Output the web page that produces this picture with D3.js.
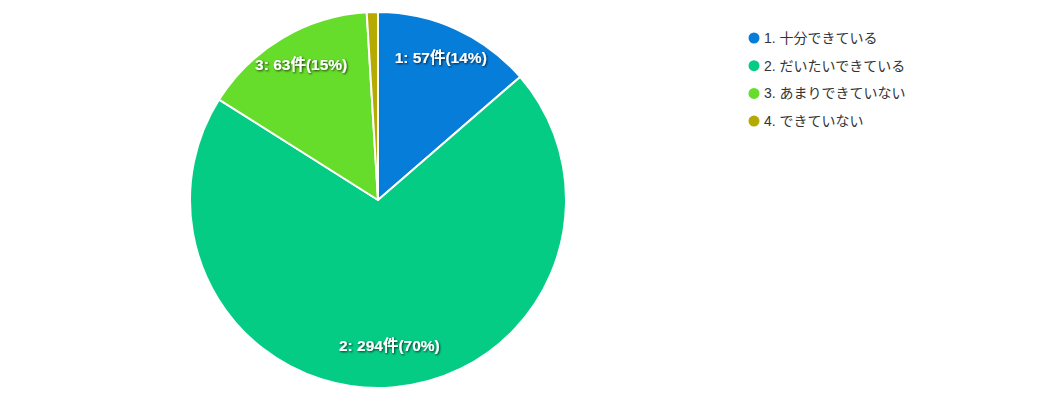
<!DOCTYPE html>
<html>
<head>
<meta charset="utf-8">
<script src="https://cdn.jsdelivr.net/npm/d3@7"></script>
<style>
  body { margin: 0; background: #fff; }
  .slice-label {
    font-family: "Liberation Sans", Arial, "Noto Sans CJK JP", sans-serif;
    font-size: 15.5px;
    font-weight: bold;
    fill: #fff;
  }
  .legend-text {
    font-family: "Liberation Sans", Arial, "Noto Sans CJK JP", sans-serif;
    font-size: 14px;
    fill: #333;
  }
</style>
</head>
<body>
<div id="chart"></div>
<script>
const categories = ["1. 十分できている", "2. だいたいできている", "3. あまりできていない", "4. できていない"];
const shortKeys = ["1", "2", "3", "4"];
const counts = [57, 294, 63, 4];
const colors = ["#077dda", "#05cc85", "#66dd2a", "#b5aa00"];

const W = 1039, H = 402;
const cx = 378, cy = 200, radius = 188;

const svg = d3.select("#chart")
    .append("svg")
    .attr("width", W)
    .attr("height", H);

const defs = svg.append("defs");
const shadow = defs.append("filter").attr("id", "shadow")
    .attr("x", "-20%").attr("y", "-40%").attr("width", "140%").attr("height", "180%");
shadow.append("feDropShadow")
    .attr("dx", 1).attr("dy", 1).attr("stdDeviation", 1)
    .attr("flood-color", "#000").attr("flood-opacity", 0.75);

const total = d3.sum(counts);
const data = counts.map((v, i) => ({ key: shortKeys[i], name: categories[i], value: v, color: colors[i] }));

const pie = d3.pie().value(d => d.value).sort(null);
const arc = d3.arc().innerRadius(0).outerRadius(radius);
const arcs = pie(data);

const g = svg.append("g").attr("transform", `translate(${cx}, ${cy})`);

// Slices
g.selectAll("path.slice")
    .data(arcs)
    .join("path")
    .attr("class", "slice")
    .attr("d", arc)
    .attr("fill", d => d.data.color)
    .attr("stroke", "#fff")
    .attr("stroke-width", 2)
    .attr("stroke-linejoin", "round");

// Labels (skip the tiny slice)
const labelR = 151;
g.selectAll("text.slice-label")
    .data(arcs.filter(d => d.data.value / total > 0.05))
    .join("text")
    .attr("class", "slice-label")
    .attr("text-anchor", "middle")
    .attr("filter", "url(#shadow)")
    .attr("x", d => Math.sin((d.startAngle + d.endAngle) / 2) * labelR)
    .attr("y", d => -Math.cos((d.startAngle + d.endAngle) / 2) * labelR)
    .text(d => `${d.data.key}: ${d.data.value}件(${Math.round(d.data.value / total * 100)}%)`);

// Legend
const legend = svg.append("g").attr("transform", "translate(754, 38)");
const items = legend.selectAll("g.item")
    .data(data)
    .join("g")
    .attr("class", "item")
    .attr("transform", (d, i) => `translate(0, ${i * 27.7})`);

items.append("circle")
    .attr("r", 5.5)
    .attr("fill", d => d.color);

items.append("text")
    .attr("class", "legend-text")
    .attr("x", 10)
    .attr("y", 5)
    .text(d => d.name);
</script>
</body>
</html>
